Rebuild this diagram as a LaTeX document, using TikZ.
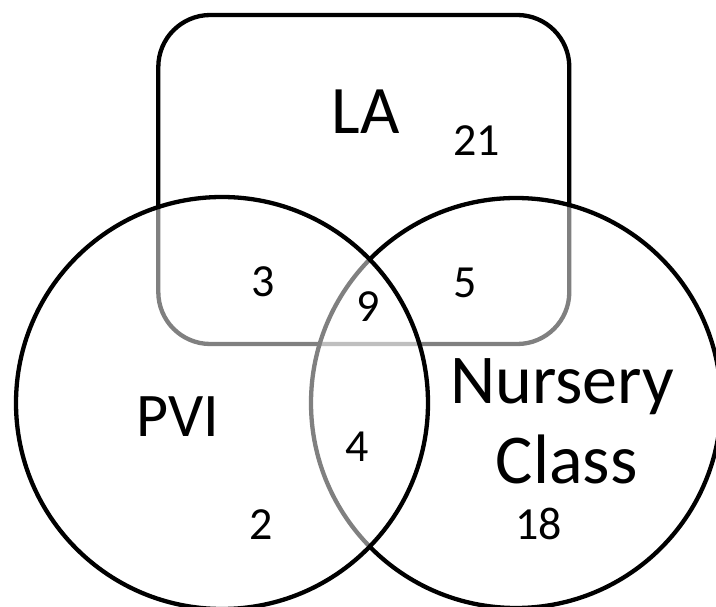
\documentclass[tikz,border=0pt]{standalone}
\usepackage{fontspec}
\setmainfont{Carlito}
\begin{document}
\begin{tikzpicture}[x=1pt,y=-1pt,
  shapeline/.style={line width=4.3pt, draw=black},
  venn/.style={shapeline, fill=white, fill opacity=0.5, draw opacity=1},
  setname/.style={inner sep=0pt, anchor=base},
  count/.style={inner sep=0pt, anchor=base, font=\fontsize{46}{50}\selectfont}]
\useasboundingbox (0,0) rectangle (716,607);
% LA rounded box (drawn first, so the circles' translucent fills grey its lines)
\draw[shapeline, rounded corners=52pt] (158.3,15) rectangle (569.3,344);
% Nursery Class circle
\draw[venn] (516,403) circle [radius=205];
% PVI circle
\draw[venn] (222,403) circle [radius=206];
% set names
\node[setname, font=\fontsize{68}{80}\selectfont] (la) at (365.5,133.3) {LA};
\node[setname, font=\fontsize{62}{74}\selectfont] (pvi) at (177.5,436.7) {PVI};
\node[setname, font=\fontsize{70}{80}\selectfont] (nursery) at (562,403.3) {Nursery};
\node[setname, font=\fontsize{70}{80}\selectfont] (class) at (566.7,483.3) {Class};
% counts
\node[count] (n21) at (476.5,156) {21};
\node[count] (n3) at (263,296.7) {3};
\node[count] (n9) at (368,322) {9};
\node[count] (n5) at (465.5,298) {5};
\node[count] (n4) at (357,461.7) {4};
\node[count] (n2) at (261,539.3) {2};
\node[count] (n18) at (538.7,539.3) {18};
\end{tikzpicture}
\end{document}
